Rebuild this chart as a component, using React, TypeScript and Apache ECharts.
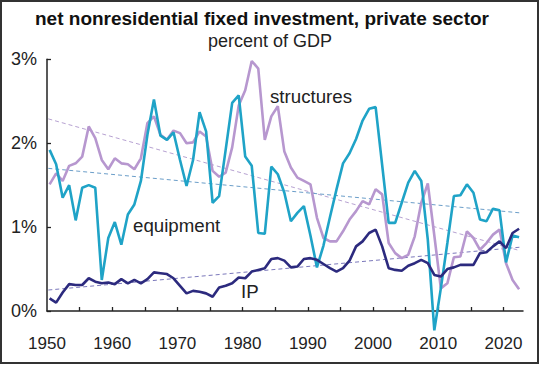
import React, { useEffect, useRef } from "react";
import * as echarts from "echarts";

// percent of GDP, 1950..2022
const firstYear = 1950;
const equipment = [
  1.92, 1.75, 1.35, 1.5, 1.08, 1.47, 1.5, 1.47, 0.37, 0.87,
  1.06, 0.79, 1.15, 1.27, 1.55, 2.1, 2.52, 2.09, 2.04, 2.13,
  1.8, 1.49, 1.8, 2.37, 2.14, 1.29, 1.37, 1.92, 2.48, 2.57,
  1.84, 1.73, 0.93, 0.92, 1.72, 1.63, 1.41, 1.07, 1.17, 1.25,
  0.9, 0.52, 0.78, 1.12, 1.45, 1.76, 1.88, 2.05, 2.27, 2.41,
  2.43, 1.74, 1.05, 1.05, 1.29, 1.53, 1.67, 1.55, 0.85, -0.23,
  0.27, 0.81, 1.37, 1.38, 1.51, 1.41, 1.09, 1.07, 1.22, 1.2,
  0.58, 0.9, 0.88,
];
const structures = [
  1.51, 1.64, 1.55, 1.73, 1.76, 1.84, 2.2, 2.06, 1.8, 1.69,
  1.82, 1.76, 1.75, 1.69, 1.82, 2.24, 2.32, 2.1, 2.04, 2.15,
  2.12, 2.0, 2.01, 2.14, 2.08, 1.67, 1.6, 1.65, 1.95, 2.45,
  2.63, 2.98, 2.89, 2.04, 2.32, 2.44, 1.9, 1.71, 1.59, 1.55,
  1.51, 1.11, 0.87, 0.83, 0.83, 0.95, 1.09, 1.19, 1.31, 1.27,
  1.45, 1.39, 0.81, 0.69, 0.63, 0.67, 0.89, 1.29, 1.52, 0.9,
  0.27, 0.33, 0.64, 0.65, 0.95, 0.87, 0.73, 0.81, 0.91, 0.97,
  0.57, 0.37, 0.26,
];
const ip = [
  0.15, 0.1, 0.22, 0.32, 0.31, 0.31, 0.39, 0.35, 0.33, 0.34,
  0.32, 0.38, 0.33, 0.37, 0.33, 0.38, 0.46, 0.45, 0.44, 0.39,
  0.3, 0.21, 0.24, 0.23, 0.21, 0.17, 0.28, 0.3, 0.33, 0.4,
  0.39, 0.47, 0.49, 0.51, 0.62, 0.63, 0.6, 0.52, 0.53, 0.62,
  0.63, 0.61, 0.56, 0.51, 0.47, 0.51, 0.6, 0.77, 0.83, 0.93,
  0.97, 0.77, 0.51, 0.49, 0.48, 0.54, 0.57, 0.61, 0.57, 0.43,
  0.41, 0.5, 0.52, 0.55, 0.55, 0.55, 0.69, 0.7, 0.77, 0.83,
  0.75, 0.93, 0.98,
];
// linear trend endpoints
const trendYears = [1950, 2022];
const equipmentTrend = [1.7, 1.17];
const structuresTrend = [2.29, 0.72];
const ipTrend = [0.25, 0.76];

const xLabelYears = [1950, 1960, 1970, 1980, 1990, 2000, 2010, 2020];
const xTickYears = [1955, 1960, 1965, 1970, 1975, 1980, 1985, 1990, 1995, 2000, 2005, 2010, 2015, 2020];

const titleText = "net nonresidential fixed investment, private sector";
const subtitleText = "percent of GDP";

const FONT = '"Liberation Sans", Arial, Helvetica, sans-serif';
const MID = 0.4; // annual values plotted inside the year

const years = equipment.map((_, i) => firstYear + i);
const pairs = (vals: number[]) => vals.map((v, i) => [years[i] + MID, v]);
const trendPairs = (vals: number[]) => vals.map((v, i) => [trendYears[i] + (i === 0 ? 0.2 : 0.5), v]);

export default function App() {
  const ref = useRef<HTMLDivElement>(null);
  useEffect(() => {
    if (!ref.current) return;
    const chart = echarts.init(ref.current, undefined, { renderer: "svg" });
    const mainLine = (name: string, vals: number[], color: string) => ({
      name,
      type: "line",
      data: pairs(vals),
      showSymbol: false,
      clip: false,
      lineStyle: { color, width: 2.6 },
      itemStyle: { color },
      z: 3,
    });
    const trendLine = (name: string, vals: number[], color: string) => ({
      name,
      type: "line",
      data: trendPairs(vals),
      showSymbol: false,
      clip: false,
      lineStyle: { color, width: 1, type: [4, 3] },
      itemStyle: { color },
      z: 2,
    });
    const label = (text: string, x: number, y: number) => ({
      type: "text",
      x,
      y,
      style: { text, font: `18.7px ${FONT}`, fill: "#222", verticalAlign: "middle", textVerticalAlign: "middle" },
    });
    chart.setOption({
      animation: false,
      backgroundColor: "#ffffff",
      grid: { left: 47, right: 17, top: 59.3, bottom: 55, containLabel: false },
      xAxis: {
        type: "value",
        min: 1950,
        max: 2023,
        axisLine: { show: true, lineStyle: { color: "#222", width: 1.5 } },
        axisTick: { show: true, inside: true, length: 4, customValues: xTickYears, lineStyle: { color: "#222", width: 1.3 } },
        axisLabel: {
          customValues: xLabelYears,
          margin: 24,
          fontSize: 17,
          fontFamily: FONT,
          color: "#222",
          formatter: (v: number) => String(v),
        },
        splitLine: { show: false },
      },
      yAxis: {
        type: "value",
        min: 0,
        max: 3,
        interval: 1,
        axisLine: { show: true, lineStyle: { color: "#222", width: 1.5 } },
        axisTick: { show: true, inside: true, length: 4, lineStyle: { color: "#222", width: 1.3 } },
        axisLabel: {
          margin: 10,
          fontSize: 18,
          fontFamily: FONT,
          color: "#222",
          formatter: (v: number) => v + "%",
        },
        splitLine: { show: false },
      },
      series: [
        trendLine("structures trend", structuresTrend, "#b7a2d2"),
        trendLine("equipment trend", equipmentTrend, "#6b9ec9"),
        trendLine("IP trend", ipTrend, "#7b78bb"),
        mainLine("structures", structures, "#b797cf"),
        mainLine("equipment", equipment, "#1fa3c7"),
        mainLine("IP", ip, "#2c2a7e"),
      ],
      graphic: [
        {
          type: "rect",
          shape: { x: 1, y: 1, width: 537, height: 362 },
          style: { fill: "none", stroke: "#333", lineWidth: 2 },
          silent: true,
        },
        {
          type: "text",
          x: 262,
          y: 18,
          style: {
            text: titleText,
            font: `bold 19px ${FONT}`,
            fill: "#111",
            align: "center",
            textAlign: "center",
            verticalAlign: "middle",
            textVerticalAlign: "middle",
          },
        },
        {
          type: "text",
          x: 270,
          y: 41,
          style: {
            text: subtitleText,
            font: `18px ${FONT}`,
            fill: "#222",
            align: "center",
            textAlign: "center",
            verticalAlign: "middle",
            textVerticalAlign: "middle",
          },
        },
        label("structures", 270, 96),
        label("equipment", 133, 225),
        label("IP", 241, 291),
      ],
    });
    return () => chart.dispose();
  }, []);
  return (
    <div
      ref={ref}
      style={{ position: "fixed", left: 0, top: 0, width: 540, height: 366, background: "#fff" }}
    />
  );
}
